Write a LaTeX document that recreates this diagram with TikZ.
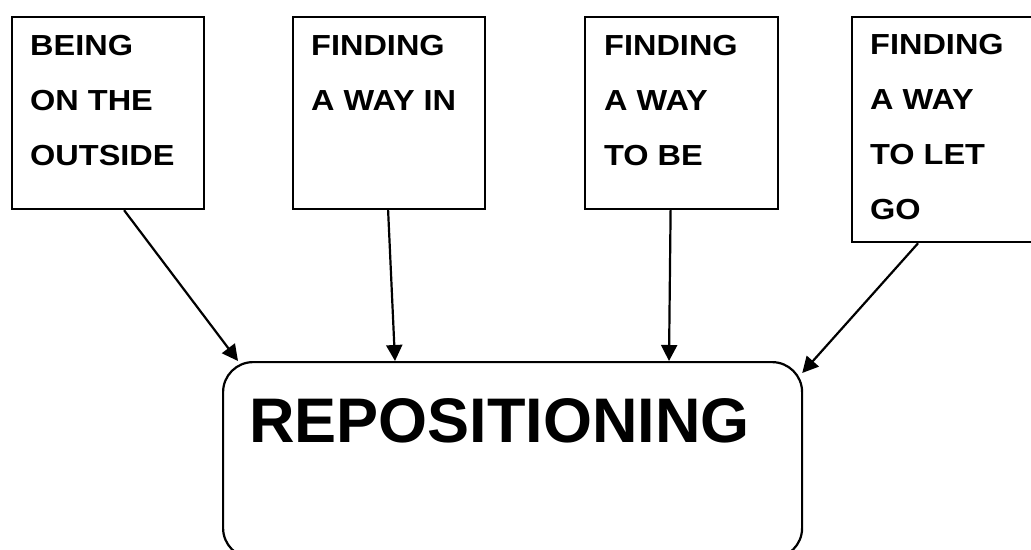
\documentclass[tikz,border=0pt]{standalone}
\usepackage{fontspec}
\setmainfont{Liberation Sans}
\newfontfamily\boxfont{Liberation Sans}[FakeStretch=1.12]
\usetikzlibrary{arrows.meta}
\begin{document}
\begin{tikzpicture}[x=1pt,y=-1pt,
  sqbox/.style={draw=black,line width=2.2pt,rectangle,inner sep=0pt,anchor=north west},
  boxtext/.style={inner sep=0pt,anchor=north west,align=left,font=\boxfont\bfseries\fontsize{29}{55}\selectfont},
  conn/.style={line width=2.2pt,-{Triangle[length=16pt,width=16pt]}}]
\useasboundingbox (0,0) rectangle (1031,549);
\fill[white] (0,0) rectangle (1031,549);
\node[sqbox,minimum width=192pt,minimum height=192pt] (box1) at (11,16) {};
\node[sqbox,minimum width=192pt,minimum height=192pt] (box2) at (292,16) {};
\node[sqbox,minimum width=193pt,minimum height=192pt] (box3) at (584,16) {};
\node[sqbox,minimum width=200pt,minimum height=225pt] (box4) at (851,16) {};
\node[boxtext] (t1) at (30,35) {BEING\\ON THE\\OUTSIDE};
\node[boxtext] (t2) at (311,35) {FINDING\\A WAY IN};
\node[boxtext] (t3) at (604,35) {FINDING\\A WAY\\TO BE};
\node[boxtext] (t4) at (870,34) {FINDING\\A WAY\\TO LET\\GO};
\node[draw=black,line width=2.2pt,rounded corners=30pt,inner sep=0pt,anchor=north west,
      minimum width=579pt,minimum height=196pt] (rep) at (222,361) {};
\node[inner sep=0pt,anchor=base west,font=\bfseries\fontsize{63}{70}\selectfont] (reptext) at (249,442) {REPOSITIONING};
\draw[conn] ([xshift=16pt]box1.south) -- ([xshift=16pt]rep.north west);
\draw[conn] ([xshift=-1pt]box2.south) -- ([xshift=173pt]rep.north west);
\draw[conn] ([xshift=-11pt]box3.south) -- ([xshift=447pt]rep.north west);
\draw[conn] ([xshift=-34pt]box4.south) -- ([xshift=-1pt,yshift=-12pt]rep.north east);
\end{tikzpicture}
\end{document}
